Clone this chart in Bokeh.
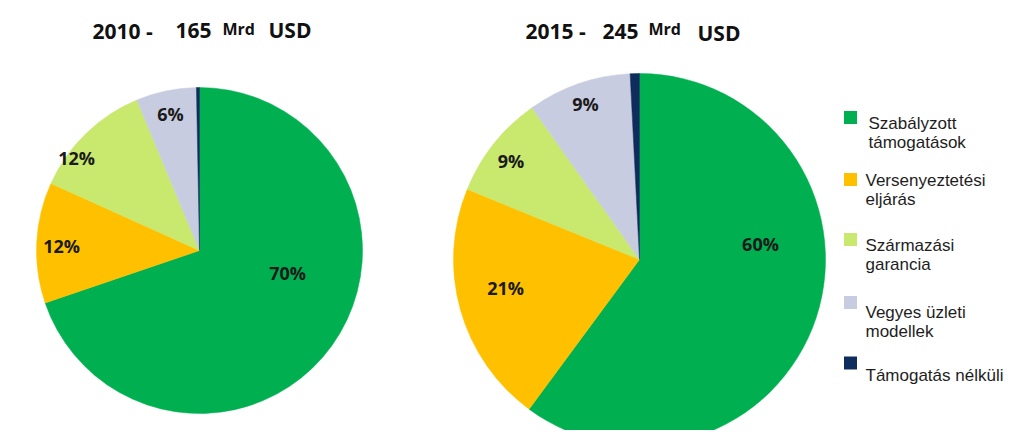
import math
from bokeh.plotting import figure
from bokeh.models import Range1d, ColumnDataSource
from bokeh.core.properties import value
from bokeh.embed import file_html
from bokeh.resources import INLINE

# ---------------- data ----------------
categories = ["Szabályzott támogatások", "Versenyeztetési eljárás",
              "Származási garancia", "Vegyes üzleti modellek", "Támogatás nélküli"]
legend_lines = [["Szabályzott", "támogatások"], ["Versenyeztetési", "eljárás"],
                ["Származási", "garancia"], ["Vegyes üzleti", "modellek"],
                ["Támogatás nélküli"]]
years = ["2010", "2015"]
totals = [165, 245]
shares_2010 = [70, 12, 12, 6, 0.3]
shares_2015 = [60, 21, 9, 9, 0.8]
unit = "Mrd"
currency = "USD"

# ---------------- style / layout ----------------
colors = ["#00B050", "#FFC000", "#C8E86E", "#C8CCE0", "#0E2D5C"]
W, H = 1008, 430
def X(ix): return ix
def Y(iy): return H - iy

pies = [
    dict(cx=199, cy=250, r=163, shares=shares_2010,
         lab_polar=[(104.3, 91), (271.9, 138), (307.1, 154), (348, 140), None],
         title_x=[92, 175, 222, 268], title_base=[30, 30, 28.5, 29.5]),
    dict(cx=639, cy=259, r=186, shares=shares_2015,
         lab_polar=[(82.7, 122), (257.8, 137), (307.5, 162), (340.9, 165), None],
         title_x=[525, 602, 648, 697], title_base=[30.5, 30.5, 28.5, 32]),
]
legend_sq_x = 850
legend_sq_y = [117, 179, 239, 302, 362.5]
legend_base = [123, 179.5, 244.5, 312, 375]
legend_text_x = [868, 865, 865, 865, 865]

p = figure(width=W, height=H, output_backend="svg", toolbar_location=None,
           x_range=Range1d(0, W), y_range=Range1d(0, H),
           x_axis_location=None, y_axis_location=None, min_border=0)
p.grid.visible = False
p.outline_line_color = None
p.background_fill_color = "white"
p.border_fill_color = "white"

for pie, year, total in zip(pies, years, totals):
    shares = pie["shares"]
    tot = sum(shares)
    xs, ys, rs, ss, es, cs = [], [], [], [], [], []
    lx, ly, lt = [], [], []
    cum = 0.0
    for i, v in enumerate(shares):
        a0 = cum / tot * 2 * math.pi
        cum += v
        a1 = cum / tot * 2 * math.pi
        xs.append(X(pie["cx"])); ys.append(Y(pie["cy"])); rs.append(pie["r"])
        ss.append(math.pi / 2 - a0); es.append(math.pi / 2 - a1); cs.append(colors[i])
        lp = pie["lab_polar"][i]
        if lp is not None and v >= 1:
            th = math.radians(lp[0])
            lx.append(X(pie["cx"]) + lp[1] * math.sin(th))
            ly.append(Y(pie["cy"]) + lp[1] * math.cos(th))
            lt.append(f"{v:g}%")
    src = ColumnDataSource(dict(x=xs, y=ys, r=rs, s=ss, e=es, c=cs))
    p.wedge(x="x", y="y", radius="r", start_angle="s", end_angle="e",
            direction="clock", fill_color="c", line_color="c", line_width=0.5,
            source=src)
    p.text(x=lx, y=ly, text=lt, text_font=value("Open Sans"), text_font_style="bold",
           text_font_size="18px", text_align="center", text_baseline="middle",
           text_color="#1a1a1a")
    # title pieces
    pieces = [f"{year} -", f"{total}", unit, currency]
    sizes = ["21px", "21px", "16px", "21px"]
    for t, tx, tb, sz in zip(pieces, pie["title_x"], pie["title_base"], sizes):
        p.text(x=[X(tx)], y=[Y(tb)], text=[t], text_font=value("Open Sans"),
               text_font_style="bold", text_font_size=sz, text_align="left",
               text_baseline="alphabetic", text_color="#111111")

# legend
p.rect(x=[X(legend_sq_x)] * len(categories), y=[Y(v) for v in legend_sq_y],
       width=13, height=13, fill_color=colors, line_color=None)
for lines, base, tx in zip(legend_lines, legend_base, legend_text_x):
    for k, ln in enumerate(lines):
        p.text(x=[X(tx)], y=[Y(base + 19 * k)], text=[ln],
               text_font=value("Liberation Sans"), text_font_size="17px",
               text_align="left", text_baseline="alphabetic", text_color="#1e1e1e")

open("out.html", "w").write(file_html(p, INLINE))
